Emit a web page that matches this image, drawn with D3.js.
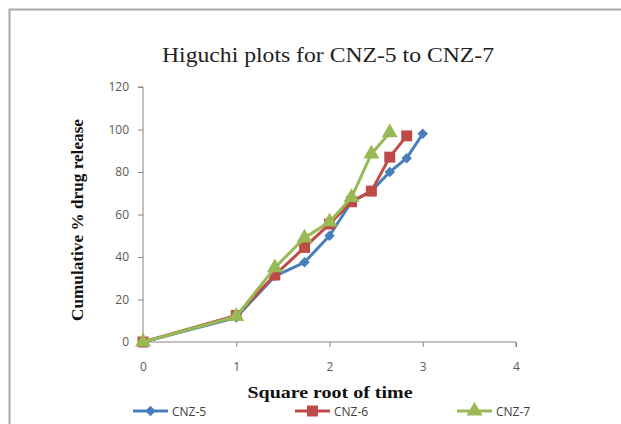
<!DOCTYPE html>
<html>
<head>
<meta charset="utf-8">
<script src="https://cdn.jsdelivr.net/npm/d3@7/dist/d3.min.js"></script>
<style>
  html, body { margin: 0; padding: 0; background: #fff; }
  svg { display: block; }
</style>
</head>
<body>
<script>
// Square root of sampling time (hours)
const sqrtTime = [0, 1, 1.414, 1.732, 2, 2.236, 2.449, 2.646, 2.828, 3];

// Cumulative % drug release per formulation
const cnz5 = [0, 11.5, 31, 37.5, 50, 66, 71, 80, 86.5, 98];
const cnz6 = [0, 12.5, 31.5, 44.5, 55.5, 66, 71, 87, 97];
const cnz7 = [0, 12, 35, 49, 56.5, 68, 88.5, 98.5];

const seriesNames = ["CNZ-5", "CNZ-6", "CNZ-7"];
const seriesColors = ["#4a7ebb", "#be4b48", "#98b954"];
const seriesShapes = [d3.symbolDiamond2, d3.symbolSquare, d3.symbolTriangle];

const xTicks = [0, 1, 2, 3, 4];
const yTicks = [0, 20, 40, 60, 80, 100, 120];

const W = 621, H = 424;
const svg = d3.select("body").append("svg").attr("width", W).attr("height", H);

// outer frame (top and left edges)
svg.append("path")
  .attr("d", `M9.5,${H} L9.5,9.5 L${W},9.5`)
  .attr("fill", "none").attr("stroke", "#a8a8a8").attr("stroke-width", 2);

const x = d3.scaleLinear().domain([0, 4]).range([143, 516]);
const y = d3.scaleLinear().domain([0, 120]).range([342, 87]);

const axisColor = "#868686";
const tickTextColor = "#595959";
const tickFont = "'Open Sans', 'Liberation Sans', Arial, sans-serif";

// y axis
const gy = svg.append("g").attr("transform", `translate(${x(0)},0)`)
  .call(d3.axisLeft(y).tickValues(yTicks).tickSize(5).tickPadding(9).tickFormat(d3.format("d")));
gy.select(".domain").attr("stroke", axisColor).attr("d", `M-5,${y(120)}H0V${y(0)}`);
gy.selectAll(".tick line").attr("stroke", axisColor);
gy.selectAll(".tick text").attr("fill", tickTextColor)
  .style("font-family", tickFont).style("font-size", "12px");

// x axis
const gx = svg.append("g").attr("transform", `translate(0,${y(0)})`)
  .call(d3.axisBottom(x).tickValues(xTicks).tickSize(5).tickPadding(15).tickFormat(d3.format("d")));
gx.select(".domain").attr("stroke", axisColor).attr("d", `M${x(0)},5V0H${x(4)}V5`);
gx.selectAll(".tick line").attr("stroke", axisColor);
gx.selectAll(".tick text").attr("fill", tickTextColor)
  .style("font-family", tickFont).style("font-size", "12px");

// title
svg.append("text")
  .attr("x", 328).attr("y", 62).attr("text-anchor", "middle")
  .attr("textLength", 332).attr("lengthAdjust", "spacingAndGlyphs")
  .style("font-family", "'Liberation Serif', 'Times New Roman', serif")
  .style("font-size", "21px").attr("fill", "#222")
  .text("Higuchi plots for CNZ-5 to CNZ-7");

// axis titles
svg.append("text")
  .attr("transform", "translate(83,220) rotate(-90)")
  .attr("text-anchor", "middle")
  .attr("textLength", 202).attr("lengthAdjust", "spacingAndGlyphs")
  .style("font-family", "'Liberation Serif', 'Times New Roman', serif")
  .style("font-size", "17px").style("font-weight", "bold").attr("fill", "#111")
  .text("Cumulative % drug release");

svg.append("text")
  .attr("x", 330).attr("y", 398).attr("text-anchor", "middle")
  .attr("textLength", 165).attr("lengthAdjust", "spacingAndGlyphs")
  .style("font-family", "'Liberation Serif', 'Times New Roman', serif")
  .style("font-size", "17px").style("font-weight", "bold").attr("fill", "#111")
  .text("Square root of time");

// series
const allSeries = [cnz5, cnz6, cnz7];
const markerSizes = [70, 120, 110];
const line = d3.line().x(d => x(d[0])).y(d => y(d[1]));

allSeries.forEach((vals, i) => {
  const pts = vals.map((v, k) => [sqrtTime[k], v]);
  const g = svg.append("g");
  g.append("path").datum(pts).attr("d", line)
    .attr("fill", "none").attr("stroke", seriesColors[i])
    .attr("stroke-width", 3).attr("stroke-linejoin", "round");
  g.selectAll("path.m").data(pts).join("path").attr("class", "m")
    .attr("transform", d => `translate(${x(d[0])},${y(d[1])})`)
    .attr("d", d3.symbol().type(seriesShapes[i]).size(markerSizes[i]))
    .attr("fill", seriesColors[i]);
});

// legend
const legendX = [133, 295, 457];
const legendY = 411;
seriesNames.forEach((name, i) => {
  const g = svg.append("g").attr("transform", `translate(${legendX[i]},${legendY})`);
  g.append("line").attr("x1", 0).attr("x2", 35).attr("y1", 0).attr("y2", 0)
    .attr("stroke", seriesColors[i]).attr("stroke-width", 3);
  g.append("path").attr("transform", "translate(17.5,0)")
    .attr("d", d3.symbol().type(seriesShapes[i]).size(markerSizes[i]))
    .attr("fill", seriesColors[i]);
  g.append("text").attr("x", 39).attr("y", 4.5)
    .style("font-family", tickFont).style("font-size", "12px")
    .attr("fill", "#404040").text(name);
});
</script>
</body>
</html>
